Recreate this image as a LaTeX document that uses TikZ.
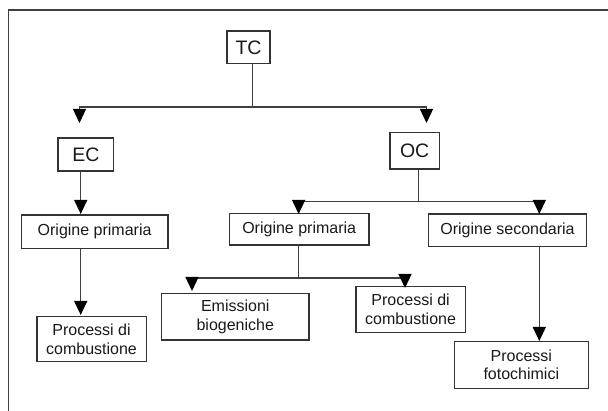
\documentclass[tikz,border=0pt]{standalone}
\usepackage{fontspec}
\setmainfont{Liberation Sans}
\usetikzlibrary{arrows.meta}
\begin{document}
\begin{tikzpicture}[x=1pt,y=-1pt,
  box/.style={draw=black!80, line width=1.4pt, inner sep=0pt, align=center,
    text=black!90, font=\fontsize{16}{18.5}\selectfont},
  bigbox/.style={box, font=\fontsize{19.5}{22}\selectfont},
  conn/.style={draw=black!75, line width=1.3pt},
  arr/.style={conn, -{Triangle[length=14pt,width=13pt,fill=black,color=black]}}]
\useasboundingbox (0,0) rectangle (608,411);
\draw[line width=1.5pt, black!75] (608,10) -- (8.5,10) -- (8.5,411);

\node[bigbox, minimum width=43pt, minimum height=32.5pt] (tc) at (248.5,47.3) {TC};
\node[bigbox, minimum width=55.6pt, minimum height=33pt] (ec) at (85.8,154.5) {EC};
\node[bigbox, minimum width=49.3pt, minimum height=36.7pt] (oc) at (414.7,150.7) {OC};
\node[box, minimum width=146.6pt, minimum height=33.3pt] (op1) at (94.6,231.7) {Origine primaria};
\node[box, minimum width=139.3pt, minimum height=31.7pt] (op2) at (299.2,229.2) {Origine primaria};
\node[box, minimum width=158.4pt, minimum height=32.7pt] (os) at (507.5,230.3) {Origine secondaria};
\node[box, minimum width=109.4pt, minimum height=45pt] (pc1) at (91.5,339.2) {Processi di\\combustione};
\node[box, minimum width=147.7pt, minimum height=46.7pt] (eb) at (235.3,316.7) {Emissioni\\biogeniche};
\node[box, minimum width=109.3pt, minimum height=45.6pt] (pc2) at (410.6,309.5) {Processi di\\combustione};
\node[box, minimum width=134pt, minimum height=46.6pt] (pf) at (521.3,365) {Processi\\fotochimici};

\coordinate (j1) at (252.4,107);
\coordinate (ecin) at (79.5,123);
\coordinate (ocin) at (426.5,123);
\coordinate (j2) at (418.3,201.7);
\coordinate (op2in) at (298.6,214);
\coordinate (osin) at (539.3,214);
\coordinate (j3) at (298.5,278);
\coordinate (ebin) at (192,291);
\coordinate (pc2in) at (405,288);
\coordinate (op1in) at (80.7,214);
\coordinate (pc1in) at (80.7,315);
\coordinate (pfin) at (539.3,341);

\draw[conn] (tc.south -| j1) -- (j1);
\draw[arr] (j1) -| (ecin);
\draw[arr] (j1) -| (ocin);
\draw[arr] (ec.south -| op1in) -- (op1in);
\draw[conn] (oc.south -| j2) -- (j2);
\draw[arr] (j2) -| (op2in);
\draw[arr] (j2) -| (osin);
\draw[arr] (op1.south -| pc1in) -- (pc1in);
\draw[conn] (op2.south -| j3) -- (j3);
\draw[arr] (j3) -| (ebin);
\draw[arr] (j3) -| (pc2in);
\draw[arr] (os.south -| pfin) -- (pfin);
\end{tikzpicture}
\end{document}
